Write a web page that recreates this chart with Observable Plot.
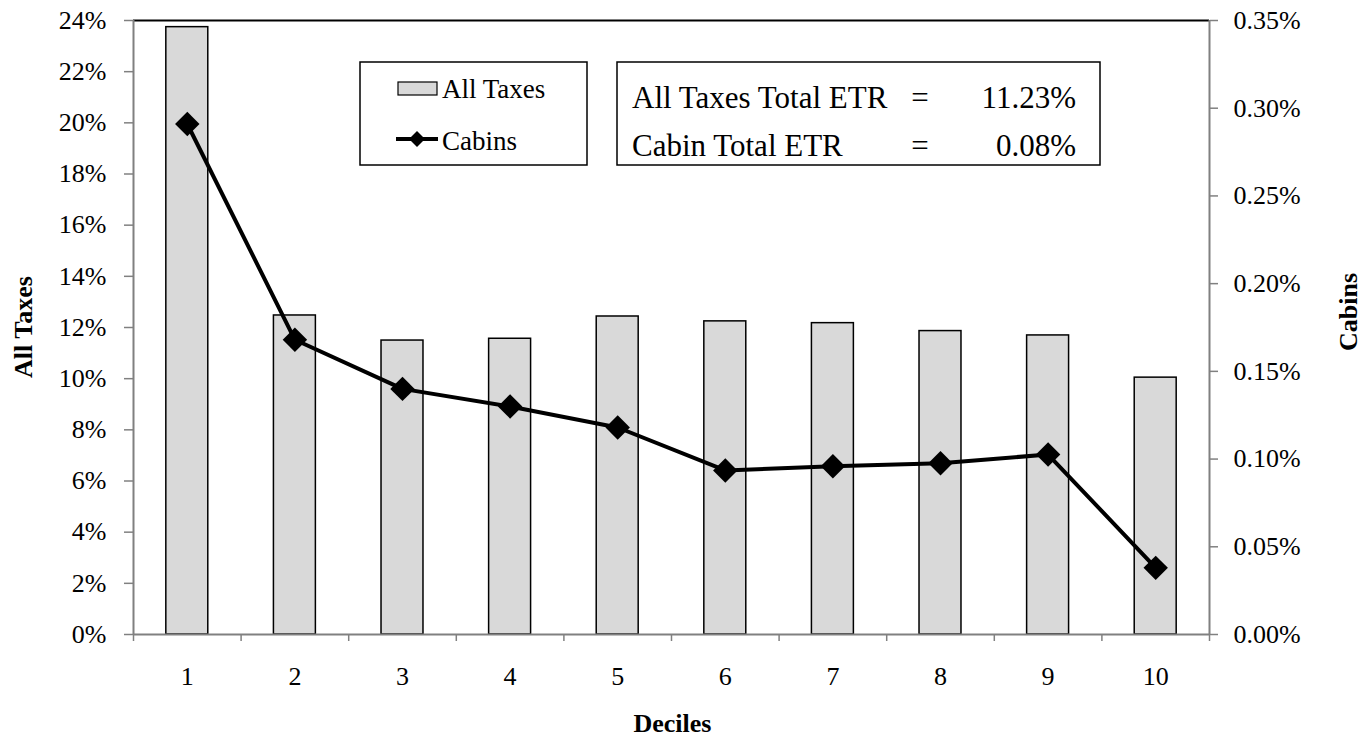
<!DOCTYPE html>
<html>
<head>
<meta charset="utf-8">
<script src="https://cdn.jsdelivr.net/npm/d3@7"></script>
<script src="https://cdn.jsdelivr.net/npm/@observablehq/plot@0.6"></script>
<style>
  html, body { margin: 0; padding: 0; background: #fff; }
  #chart svg { display: block; }
  #chart svg text.extra { font-family: 'Liberation Serif', 'Times New Roman', serif !important; }
</style>
</head>
<body>
<div id="chart"></div>
<script>
// ---- data ----
const deciles = [1, 2, 3, 4, 5, 6, 7, 8, 9, 10];
const allTaxes = [23.74, 12.47, 11.49, 11.56, 12.43, 12.24, 12.17, 11.86, 11.69, 10.04]; // percent
const cabins = [0.291, 0.168, 0.140, 0.130, 0.118, 0.0935, 0.0959, 0.0976, 0.1026, 0.038]; // percent
const leftTicks = [0, 2, 4, 6, 8, 10, 12, 14, 16, 18, 20, 22, 24];
const rightTicks = [0, 0.05, 0.10, 0.15, 0.20, 0.25, 0.30, 0.35];
const xBoundaries = [0.5, 1.5, 2.5, 3.5, 4.5, 5.5, 6.5, 7.5, 8.5, 9.5, 10.5];
const legendLabels = ["All Taxes", "Cabins"];
const etrLines = [
  ["All Taxes Total ETR", "=", "11.23%"],
  ["Cabin Total ETR", "=", "0.08%"]
];
const leftMax = 24, rightMax = 0.35;
const k = leftMax / rightMax;

const data = deciles.map((d, i) => ({decile: d, allTaxes: allTaxes[i], cabins: cabins[i]}));

const font = "'Liberation Serif', 'Times New Roman', serif";
const W = 1369, H = 738;
const mL = 133, mR = 160, mT = 20, mB = 104;

const chart = Plot.plot({
  width: W, height: H,
  marginLeft: mL, marginRight: mR, marginTop: mT, marginBottom: mB,
  style: {fontFamily: font, fontSize: "26px", color: "black", background: "white"},
  x: {domain: [0.5, 10.5]},
  y: {domain: [0, leftMax]},
  marks: [
    Plot.rectY(data, {x1: d => d.decile - 0.195, x2: d => d.decile + 0.195, y: "allTaxes",
      fill: "#d9d9d9", stroke: "black", strokeWidth: 1.5}),
    Plot.ruleY([0], {stroke: "#808080", strokeWidth: 2}),
    Plot.ruleY([leftMax], {stroke: "black", strokeWidth: 2}),
    Plot.ruleX([0.5], {stroke: "#808080", strokeWidth: 2}),
    Plot.ruleX([10.5], {stroke: "#808080", strokeWidth: 2}),
    Plot.line(data, {x: "decile", y: d => d.cabins * k, stroke: "black", strokeWidth: 4}),
    Plot.dot(data, {x: "decile", y: d => d.cabins * k, symbol: "diamond2", r: 11, fill: "black", stroke: "none"}),
    Plot.axisY(leftTicks, {anchor: "left", tickSize: 9, tickPadding: 18, stroke: "#808080", strokeWidth: 1.5,
      tickFormat: d => d + "%", label: null, fontSize: 26}),
    Plot.axisY(rightTicks.map(c => c * k), {anchor: "right", tickSize: 8, tickPadding: 16, stroke: "#808080", strokeWidth: 1.5,
      tickFormat: d => (d / k).toFixed(2) + "%", label: null, fontSize: 26}),
    Plot.axisX(xBoundaries, {anchor: "bottom", tickSize: 7, stroke: "#808080", strokeWidth: 1.5, tickFormat: () => "", label: null}),
    Plot.axisX(deciles, {anchor: "bottom", tickSize: 0, tickPadding: 32, tickFormat: d => String(d), label: null, fontSize: 26})
  ]
});

document.getElementById("chart").appendChild(chart);

// ---- titles and legends ----
const svg = d3.select(chart);
const g = svg.append("g").attr("fill", "black").attr("text-anchor", "start");
const txt = (x, y, s, size, anchor, bold) => g.append("text").attr("class", "extra")
  .attr("x", x).attr("y", y).attr("text-anchor", anchor)
  .style("font-family", font).style("font-size", size + "px")
  .style("font-weight", bold ? "bold" : "normal").text(s);

txt(W / 2 - 12, 732, "Deciles", 26, "middle", true);
g.append("text").attr("class", "extra").attr("transform", "translate(32,327) rotate(-90)").attr("text-anchor", "middle")
  .style("font-family", font).style("font-size", "26px").style("font-weight", "bold").text("All Taxes");
g.append("text").attr("class", "extra").attr("transform", "translate(1357,312) rotate(-90)").attr("text-anchor", "middle")
  .style("font-family", font).style("font-size", "26px").style("font-weight", "bold").text("Cabins");

// legend box 1
g.append("rect").attr("x", 360).attr("y", 62).attr("width", 227).attr("height", 103)
  .attr("fill", "white").attr("stroke", "black").attr("stroke-width", 1.5);
g.append("rect").attr("x", 398).attr("y", 82).attr("width", 39).attr("height", 13)
  .attr("fill", "#d9d9d9").attr("stroke", "black").attr("stroke-width", 1.2);
txt(442, 98, legendLabels[0], 27, "start", false);
g.append("line").attr("x1", 396).attr("x2", 438).attr("y1", 139).attr("y2", 139)
  .attr("stroke", "black").attr("stroke-width", 4);
g.append("path").attr("d", "M417,131L425,139L417,147L409,139Z").attr("fill", "black");
txt(442, 150, legendLabels[1], 27, "start", false);

// legend box 2
g.append("rect").attr("x", 617).attr("y", 62).attr("width", 483).attr("height", 103)
  .attr("fill", "white").attr("stroke", "black").attr("stroke-width", 1.5);
etrLines.forEach((row, i) => {
  const y = 108 + i * 48;
  txt(632, y, row[0], 31, "start", false);
  txt(920, y, row[1], 31, "middle", false);
  txt(1076, y, row[2], 31, "end", false);
});
</script>
</body>
</html>
